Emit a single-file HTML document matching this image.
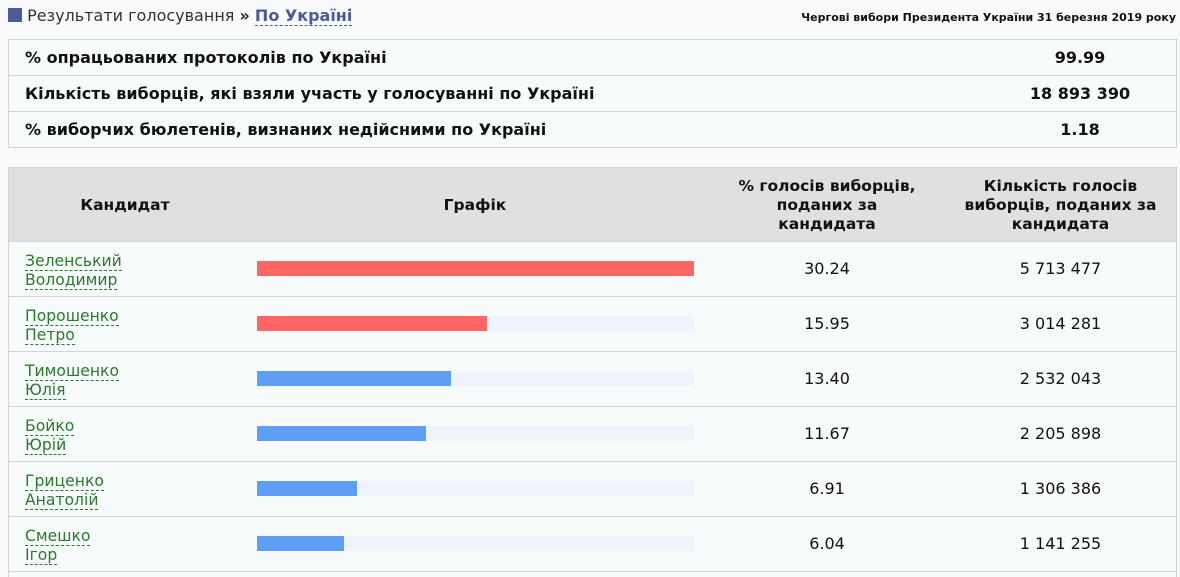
<!DOCTYPE html>
<html><head><meta charset="utf-8"><style>
html,body{margin:0;width:1180px;height:577px;overflow:hidden}
body{background:#f8fafb;font-family:"DejaVu Sans","Liberation Sans",sans-serif;color:#111;position:relative}
.abs{position:absolute}
.info{left:8px;top:39px;width:1167px;border:1px solid #cfd4d6;background:#f8fbfc}
.info .r{height:35px;border-bottom:1px solid #cfd4d6;position:relative;font-weight:bold;font-size:16px}
.info .r:last-child{border-bottom:none}
.info .l{position:absolute;left:16px;top:8px}
.info .v{position:absolute;left:968px;width:206px;text-align:center;top:8px}
.main{left:8px;top:167px;width:1167px;height:409px;border:1px solid #cfd4d6;border-bottom:none;background:#f8fbfc;overflow:hidden}
.hd{position:absolute;left:0;top:0;width:1167px;height:73px;background:#e0e0e0;border-bottom:1px solid #cfd4d6;font-weight:bold;font-size:15.5px}
.hd div{position:absolute;text-align:center;line-height:19px}
.row{position:absolute;left:0;width:1167px;height:54px;border-bottom:1px solid #cfd4d6}
.nm{position:absolute;left:16px;top:10px;font-size:15.6px;line-height:19px;color:#2a7a2a}
.nm span{border-bottom:1px dashed #2a7a2a}
.track{position:absolute;left:248px;top:19px;width:437px;height:15px;background:#eef3fc}
.bar{position:absolute;left:0;top:0;height:15px}
.pc,.ct{position:absolute;top:17px;font-size:16px;text-align:center}
.pc{left:700px;width:236px}.ct{left:936px;width:231px}
</style></head><body>
<div class="abs" style="left:8px;top:6px;font-size:16px;color:#333">
<span style="display:inline-block;width:14px;height:14px;background:#4a5a9a;vertical-align:-1px"></span> Результати голосування <b style="color:#222">»</b> <b style="color:#4a5a9a;border-bottom:1px dashed #4a5a9a">По Україні</b></div>
<div class="abs" style="right:4px;top:11px;font-size:11px;font-weight:bold">Чергові вибори Президента України 31 березня 2019 року</div>
<div class="abs info">
<div class="r"><span class="l">% опрацьованих протоколів по Україні</span><span class="v">99.99</span></div>
<div class="r"><span class="l">Кількість виборців, які взяли участь у голосуванні по Україні</span><span class="v">18 893 390</span></div>
<div class="r"><span class="l">% виборчих бюлетенів, визнаних недійсними по Україні</span><span class="v">1.18</span></div>
</div>
<div class="abs main" id="main">
<div class="hd">
<div style="left:0;width:232px;top:28px">Кандидат</div>
<div style="left:232px;width:468px;top:28px">Графік</div>
<div style="left:700px;width:236px;top:9px">% голосів виборців,<br>поданих за<br>кандидата</div>
<div style="left:936px;width:231px;top:9px">Кількість голосів<br>виборців, поданих за<br>кандидата</div>
</div>
</div>
<script>
const names=[["Зеленський","Володимир"],["Порошенко","Петро"],["Тимошенко","Юлія"],["Бойко","Юрій"],["Гриценко","Анатолій"],["Смешко","Ігор"]];
const pcts=[30.24,15.95,13.40,11.67,6.91,6.04];
const counts=["5 713 477","3 014 281","2 532 043","2 205 898","1 306 386","1 141 255"];
const maxPct=30.24, trackW=437;
const x=v=>v/maxPct*trackW;
const m=document.getElementById('main');
names.forEach((n,i)=>{
 const r=document.createElement('div');r.className='row';r.style.top=(74+55*i)+'px';
 
 
 r.innerHTML='<div class="nm"><span>'+n[0]+'</span><br><span>'+n[1]+'</span></div>'+
 '<div class="track"><div class="bar" style="width:'+x(pcts[i])+'px;background:'+(i<2?'#ff6666':'#5e9ef4')+'"></div></div>'+
 '<div class="pc">'+pcts[i].toFixed(2)+'</div><div class="ct">'+counts[i]+'</div>';
 m.appendChild(r);
 const nm=r.querySelector('.nm');
 
 
 const b=r.querySelector('.bar');
 
 
});
</script>
</body></html>
